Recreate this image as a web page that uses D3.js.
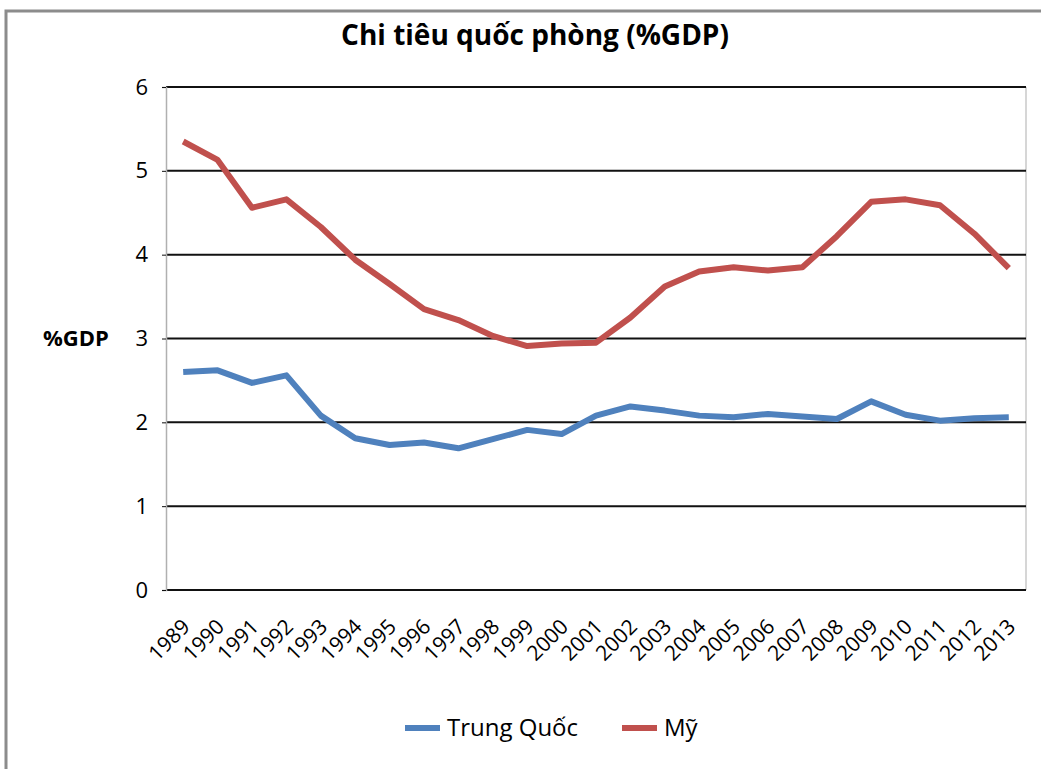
<!DOCTYPE html>
<html>
<head>
<meta charset="utf-8">
<script src="https://cdn.jsdelivr.net/npm/d3@7"></script>
<style>
  body { margin: 0; background: #fff; }
  text { font-family: "Open Sans", "Noto Sans", sans-serif; fill: #000; }
</style>
</head>
<body>
<div id="container"></div>
<script>
/** DATA */
const years = ["1989","1990","1991","1992","1993","1994","1995","1996","1997","1998","1999","2000",
  "2001","2002","2003","2004","2005","2006","2007","2008","2009","2010","2011","2012","2013"];
const china = [2.60,2.62,2.47,2.56,2.08,1.81,1.73,1.76,1.69,1.80,1.91,1.86,
  2.08,2.19,2.14,2.08,2.06,2.10,2.07,2.04,2.25,2.09,2.02,2.05,2.06];
const usa = [5.35,5.13,4.56,4.66,4.33,3.94,3.65,3.35,3.22,3.03,2.91,2.94,
  2.95,3.25,3.62,3.80,3.85,3.81,3.85,4.22,4.63,4.66,4.59,4.25,3.84];
const yTicks = [0,1,2,3,4,5,6];
const seriesNames = ["Trung Quốc", "Mỹ"];
const colors = ["#4F81BD", "#C0504D"];

/** CONSTANTS */
const width = 1041, height = 769;
const margin = { top: 87, bottom: 179, left: 166, right: 15 };

const svg = d3.select("#container").append("svg")
  .attr("width", width)
  .attr("height", height);

// outer chart frame
svg.append("rect")
  .attr("x", 6).attr("y", 11)
  .attr("width", width + 20).attr("height", height + 20)
  .attr("fill", "none")
  .attr("stroke", "#8c8c8c")
  .attr("stroke-width", 3);

const x = d3.scaleBand()
  .domain(years)
  .range([margin.left, width - margin.right]);

const y = d3.scaleLinear()
  .domain([0, 6])
  .range([height - margin.bottom, margin.top]);

// plot area right side (light grey)
svg.append("line")
  .attr("x1", width - margin.right).attr("x2", width - margin.right)
  .attr("y1", y(6)).attr("y2", y(0))
  .attr("stroke", "#c8c8c8").attr("stroke-width", 1.5);

// gridlines
svg.append("g")
  .selectAll("line")
  .data(yTicks)
  .join("line")
  .attr("x1", margin.left)
  .attr("x2", width - margin.right)
  .attr("y1", d => y(d))
  .attr("y2", d => y(d))
  .attr("stroke", "#111")
  .attr("stroke-width", 2);

// y axis
const yAxis = svg.append("g")
  .attr("transform", `translate(${margin.left},0)`)
  .call(d3.axisLeft(y).tickValues(yTicks).tickSize(4).tickPadding(14).tickFormat(d3.format("d")));
yAxis.select(".domain").attr("stroke", "#b0b0b0").attr("stroke-width", 1.5);
yAxis.selectAll(".tick line").attr("stroke", "#111");
yAxis.selectAll("text").style("font-size", "22px").attr("fill", "#111");

svg.append("text")
  .attr("x", 43).attr("y", y(3))
  .attr("dy", "0.35em")
  .style("font-size", "22px")
  .style("font-weight", "bold")
  .text("%GDP");

// x axis labels
const xAxis = svg.append("g")
  .attr("transform", `translate(0,${y(0)})`)
  .call(d3.axisBottom(x).tickSize(0).tickPadding(0));
xAxis.select(".domain").remove();
xAxis.selectAll("text")
  .style("font-size", "21px")
  .attr("fill", "#111")
  .attr("text-anchor", "end")
  .attr("dy", null)
  .attr("y", 0)
  .attr("transform", "translate(8,38) rotate(-45)");

// lines
const line = d3.line()
  .x((d, i) => x(years[i]) + x.bandwidth() / 2)
  .y(d => y(d));

[china, usa].forEach((series, i) => {
  svg.append("path")
    .datum(series)
    .attr("fill", "none")
    .attr("stroke", colors[i])
    .attr("stroke-width", 6)
    .attr("stroke-linejoin", "round")
    .attr("d", line);
});

// title
svg.append("text")
  .attr("x", 535).attr("y", 45)
  .attr("text-anchor", "middle")
  .style("font-size", "28px")
  .style("font-weight", "bold")
  .text("Chi tiêu quốc phòng (%GDP)");

// legend
const legendX = [405, 622];
const legend = svg.append("g")
  .selectAll("g")
  .data(seriesNames)
  .join("g")
  .attr("transform", (d, i) => `translate(${legendX[i]},728)`);

legend.append("line")
  .attr("x1", 0).attr("x2", 35)
  .attr("stroke", (d, i) => colors[i])
  .attr("stroke-width", 6);

legend.append("text")
  .attr("x", 42)
  .attr("dy", "0.35em")
  .style("font-size", "24px")
  .attr("fill", "#222")
  .text(d => d);
</script>
</body>
</html>
